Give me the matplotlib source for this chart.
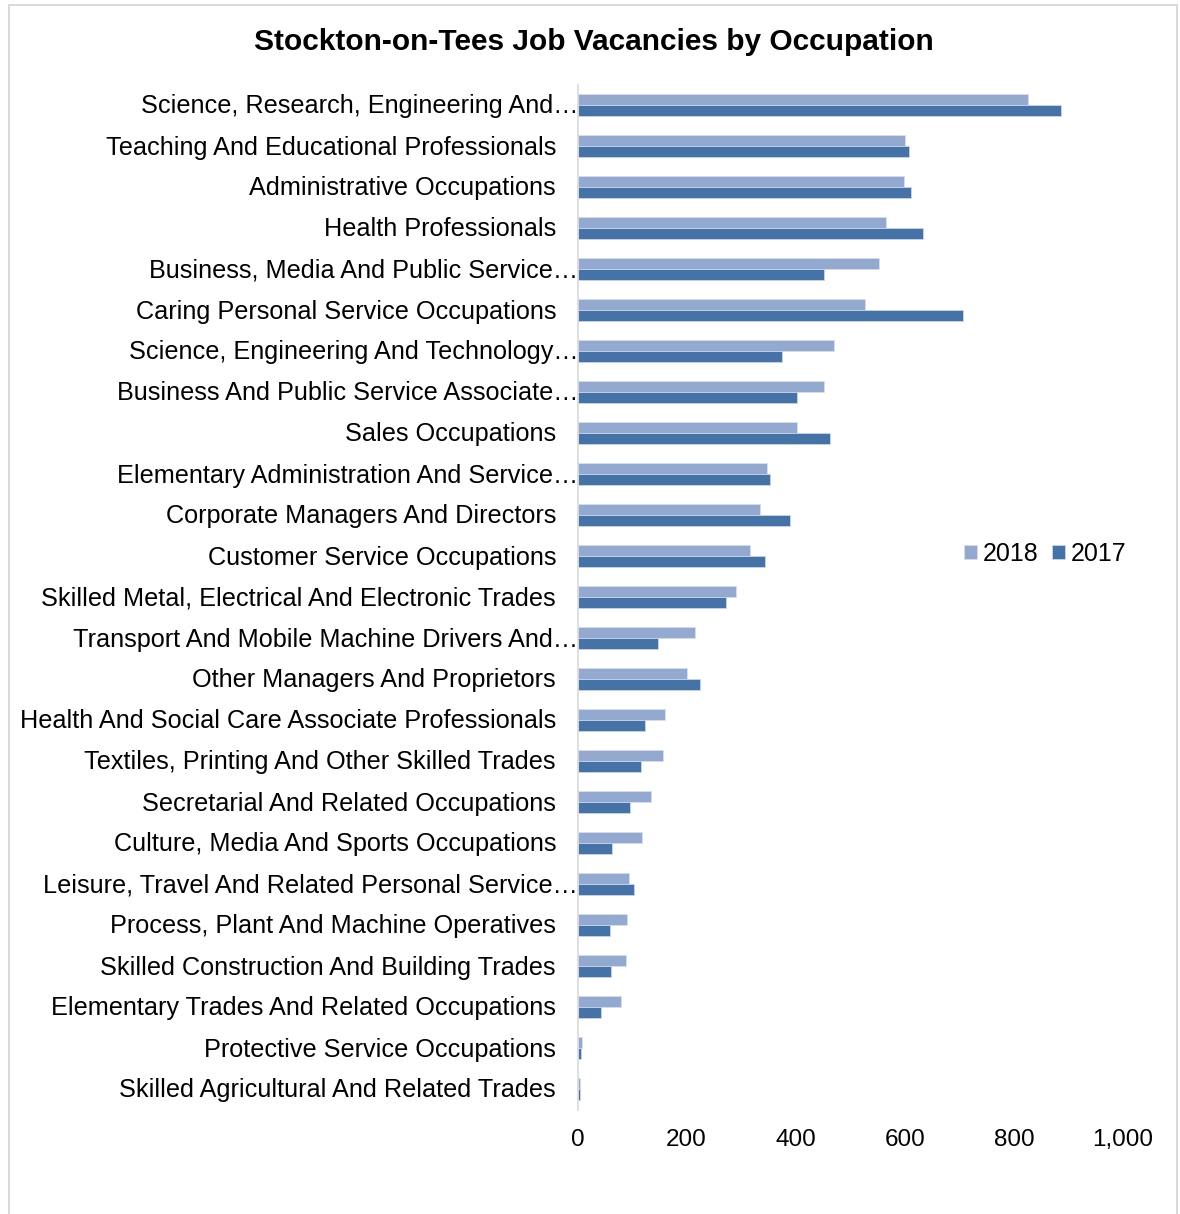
import matplotlib
matplotlib.use("Agg")
import matplotlib.pyplot as plt
import numpy as np
from matplotlib.patches import Rectangle
from matplotlib.ticker import FuncFormatter
from matplotlib.transforms import ScaledTranslation

plt.rcParams['font.family'] = ['Liberation Sans', 'DejaVu Sans']

categories = [
    "Science, Research, Engineering And…",
    "Teaching And Educational Professionals",
    "Administrative Occupations",
    "Health Professionals",
    "Business, Media And Public Service…",
    "Caring Personal Service Occupations",
    "Science, Engineering And Technology…",
    "Business And Public Service Associate…",
    "Sales Occupations",
    "Elementary Administration And Service…",
    "Corporate Managers And Directors",
    "Customer Service Occupations",
    "Skilled Metal, Electrical And Electronic Trades",
    "Transport And Mobile Machine Drivers And…",
    "Other Managers And Proprietors",
    "Health And Social Care Associate Professionals",
    "Textiles, Printing And Other Skilled Trades",
    "Secretarial And Related Occupations",
    "Culture, Media And Sports Occupations",
    "Leisure, Travel And Related Personal Service…",
    "Process, Plant And Machine Operatives",
    "Skilled Construction And Building Trades",
    "Elementary Trades And Related Occupations",
    "Protective Service Occupations",
    "Skilled Agricultural And Related Trades",
]
values_2018 = [825, 601, 599, 565, 553, 527, 471, 451, 403, 347, 335, 317, 291,
               215, 201, 161, 157, 135, 119, 95, 91, 89, 79, 9, 5]
values_2017 = [887, 608, 611, 633, 451, 707, 375, 403, 463, 353, 389, 343, 273,
               147, 224, 123, 117, 97, 63, 103, 59, 61, 43, 7, 5]
series_labels = ["2018", "2017"]
x_ticks = [0, 200, 400, 600, 800, 1000]

W, H = 1180, 1214
fig = plt.figure(figsize=(W / 100, H / 100), dpi=100)
fig.patch.set_facecolor('white')

# outer frame
fig.add_artist(Rectangle((8.5 / W, -0.01), (1176.5 - 8.5) / W, 1 - 5 / H + 0.01,
                         transform=fig.transFigure, fill=False,
                         edgecolor='#D9D9D9', linewidth=1.4))

left, right = 577.5 / W, 1123 / W
top, bottom = 1 - 84.5 / H, 1 - 1109.5 / H
ax = fig.add_axes([left, bottom, right - left, top - bottom])

c18 = '#94A9D0'
c17 = '#4573A7'
y = np.arange(len(categories))
h = 0.268
ax.barh(y - h / 2, values_2018, height=h, color=c18, edgecolor='#D6DEEE', linewidth=0.6, label=series_labels[0])
ax.barh(y + h / 2, values_2017, height=h, color=c17, edgecolor='#C9D5E8', linewidth=0.6, label=series_labels[1])

ax.set_ylim(len(categories) - 0.5, -0.5)
ax.set_xlim(0, 1000)
ax.set_xticks(x_ticks)
ax.xaxis.set_major_formatter(FuncFormatter(lambda v, p: f"{int(v):,}"))
ax.tick_params(axis='x', length=0, pad=14, labelsize=17.5)
ax.set_yticks(y)
ax.set_yticklabels([''] * len(categories))
ax.tick_params(axis='y', length=0)
for s in ['top', 'right', 'bottom']:
    ax.spines[s].set_visible(False)
ax.spines['left'].set_color('#D9D9D9')
ax.spines['left'].set_linewidth(1.2)

for yi, lab in zip(y, categories):
    off = 0.5 / 72 if lab.endswith('…') else -21.5 / 100
    tr = ax.transData + ScaledTranslation(off, -1.5 / 100, fig.dpi_scale_trans)
    ax.text(0, yi, lab, ha='right', va='center', fontsize=18.2, color='black', transform=tr)

fig.text(594 / W, 1 - 42 / H, "Stockton-on-Tees Job Vacancies by Occupation",
         ha='center', va='center', fontsize=21.5, fontweight='bold')

ax.legend(loc='center left', bbox_to_anchor=(964 / W, 1 - 554 / H),
          bbox_transform=fig.transFigure, ncol=2, frameon=False, fontsize=18,
          handlelength=0.5, handleheight=0.5, handletextpad=0.25,
          columnspacing=0.55, borderpad=0, borderaxespad=0)

fig.savefig('out.png', dpi=100, facecolor='white')
